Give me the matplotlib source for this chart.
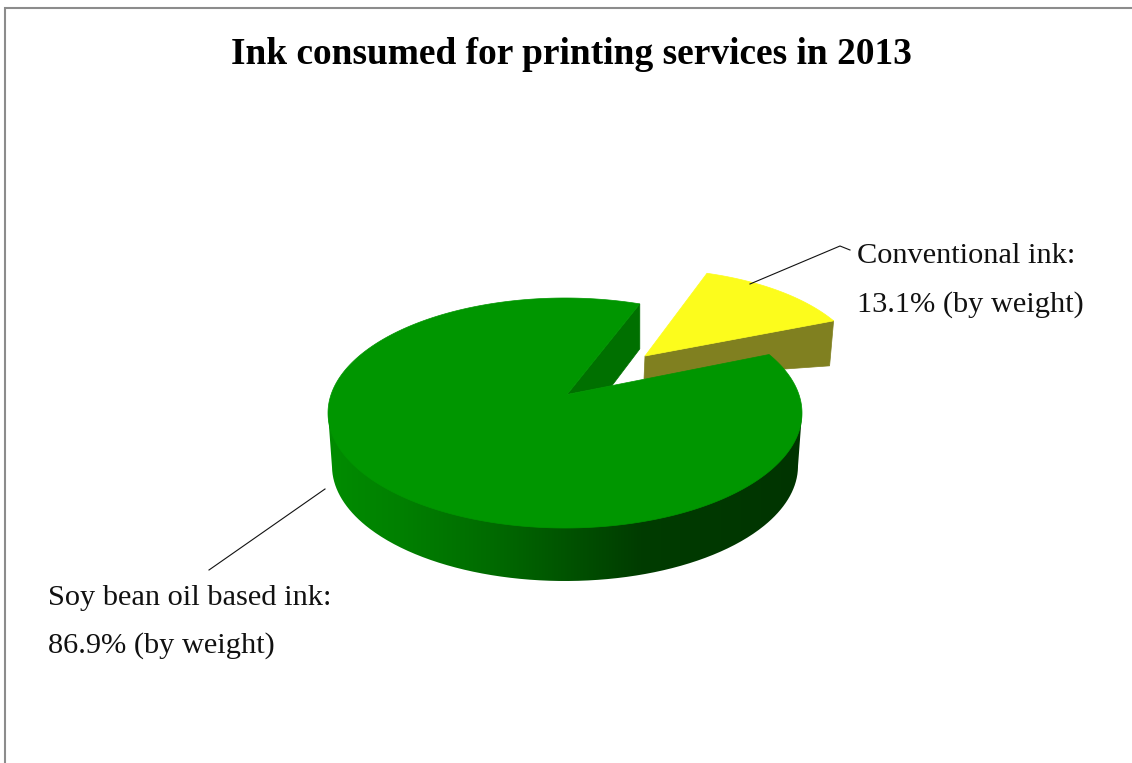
import numpy as np
import matplotlib
matplotlib.use("Agg")
import matplotlib.pyplot as plt
from matplotlib.patches import Polygon, PathPatch
from matplotlib.path import Path
from matplotlib.colors import LinearSegmentedColormap

TITLE = "Ink consumed for printing services in 2013"
CATEGORIES = ["Soy bean oil based ink", "Conventional ink"]
SHARES = [86.9, 13.1]
UNIT = "(by weight)"

W, H = 1132, 763
plt.rcParams['font.family'] = ['Liberation Serif', 'DejaVu Serif']
fig = plt.figure(figsize=(W / 100, H / 100), dpi=100, facecolor='white')
ax = fig.add_axes([0, 0, 1, 1])
ax.set_axis_off()


def px(size):
    return size * 0.72


def arc(cx, cy, rx, ry, a0, a1, n=200):
    t = np.radians(np.linspace(a0, a1, n))
    return np.column_stack([cx + rx * np.cos(t), cy - ry * np.sin(t)])


# Perspective compresses the gap slightly against the true share
RX, RY = 237, 115
CX, CY = 565, 413
START = 71.6
gap = SHARES[1] * 3.6 * 0.87
yellow_sweep = SHARES[1] * 3.6 * 0.92
main_sweep = 360 - gap

# Frame
ax.plot([5, 5, W], [H, 8, 8], color='#8c8c8c', lw=1.5, solid_joinstyle='miter', zorder=1)

# Exploded slice (conventional)
y_apex = np.array([645.0, 356.0])
y_arc = arc(645, 373, 218, 104, 30.1, 30.1 + yellow_sweep)
ax.add_patch(Polygon([y_apex, y_arc[0], y_arc[0] + [-4, 45], y_apex + [-1, 23]],
                     closed=True, fc='#808020', ec='#808020', lw=0.5, zorder=2))
ax.add_patch(Polygon(np.vstack([y_apex, y_arc]), closed=True, fc='#fcfc1c', ec='#fcfc1c', lw=0.5, zorder=3))

# Main slice: outer wall with gradient
m_apex = np.array([CX + 2, CY - 18.5])
m_arc = arc(CX, CY, RX, RY, START, START + main_sweep, 600)
bottom = arc(CX, 466, 233, 115, 180, 360, 300)
top_r = arc(CX, CY, RX, RY, 0, 0, 1)
top_l = arc(CX, CY, RX, RY, 180, 180, 1)
wall = np.vstack([top_l, bottom, top_r, [[CX, CY]]])
cmap = LinearSegmentedColormap.from_list(
    'wall', [(0.0, '#008c00'), (0.15, '#008000'), (0.35, '#006a00'),
             (0.66, '#003c00'), (1.0, '#003400')])
im = ax.imshow(np.linspace(0, 1, 512)[None, :], cmap=cmap, vmin=0, vmax=1, aspect='auto',
               extent=(328, 802, 600, 380), zorder=4, interpolation='bilinear')
clip = PathPatch(Path(wall), fc='none', ec='none', transform=ax.transData)
ax.add_patch(clip)
im.set_clip_path(clip)

# Main slice: cut face at the back
corner = m_arc[0]
ax.add_patch(Polygon([m_apex, corner, corner + [0, 45], corner + [-28, 82]],
                     closed=True, fc='#007000', ec='#007000', lw=0.5, zorder=4))
# Main slice: top
ax.add_patch(Polygon(np.vstack([m_apex, m_arc]), closed=True, fc='#009600', ec='#009600', lw=0.5, zorder=5))

# Leader lines
ax.plot([750, 840, 850], [284, 246, 250], color='#111111', lw=0.8, zorder=6)
ax.plot([325, 209], [489, 570], color='#111111', lw=0.8, zorder=6)

# Text
ax.text(571.5, 64, TITLE, fontsize=px(37.4), fontweight='bold', ha='center', va='baseline', color='black')
label = dict(fontsize=px(30.4), ha='left', va='baseline', color='#111111')
ax.text(857, 263, f"{CATEGORIES[1]}:", **label)
ax.text(857, 312, f"{SHARES[1]}% {UNIT}", **label)
ax.text(48, 605, f"{CATEGORIES[0]}:", **label)
ax.text(48, 653, f"{SHARES[0]}% {UNIT}", **label)

ax.set_xlim(0, W)
ax.set_ylim(H, 0)
fig.savefig('out.png', dpi=100, facecolor='white')
